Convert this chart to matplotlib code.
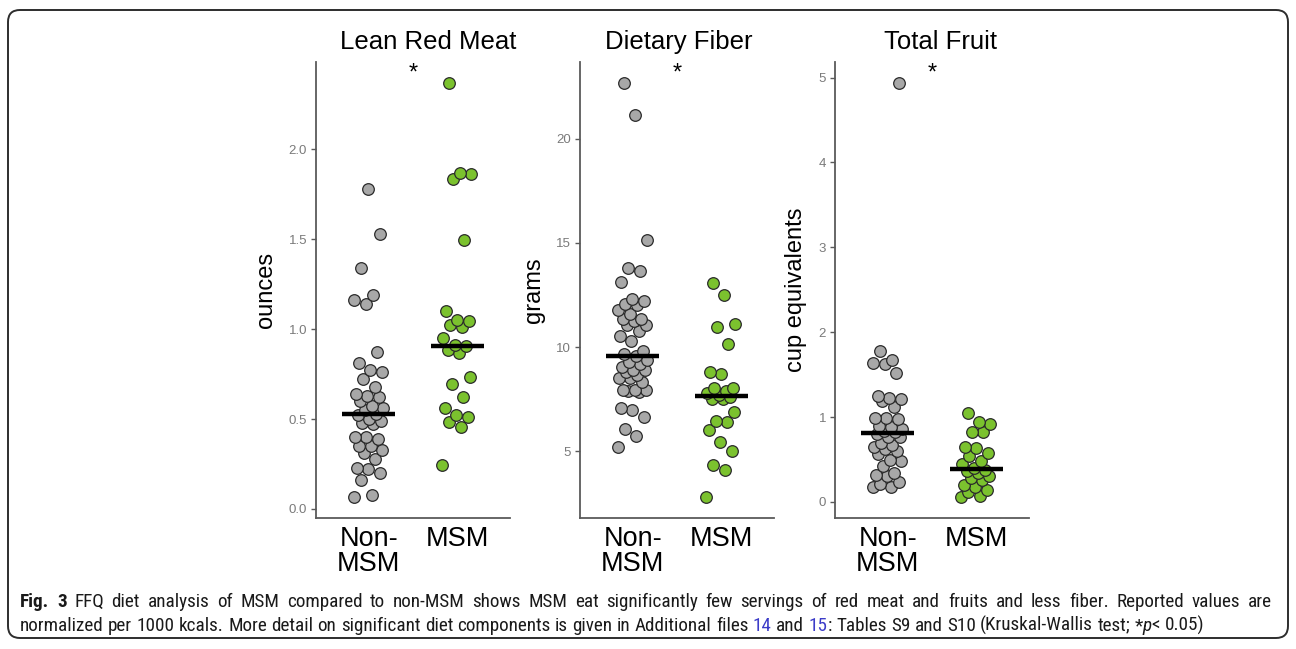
import numpy as np
import matplotlib
matplotlib.use("Agg")
import matplotlib.pyplot as plt
import matplotlib.transforms as mtransforms
from matplotlib import font_manager
from matplotlib.font_manager import FontProperties
from matplotlib.patches import FancyBboxPatch

# ---------------------------------------------------------------- data
groups = ["Non-\nMSM", "MSM"]
panel_titles = ["Lean Red Meat", "Dietary Fiber", "Total Fruit"]
y_labels = ["ounces", "grams", "cup equivalents"]
significance = ["*", "*", "*"]

# Lean red meat, ounces per 1000 kcal
meat_non_msm = [1.78, 1.53, 1.34, 1.19, 1.16, 1.14, 0.87, 0.81, 0.77, 0.76,
                0.72, 0.68, 0.64, 0.63, 0.62, 0.60, 0.57, 0.56, 0.55, 0.53,
                0.52, 0.50, 0.49, 0.48, 0.47, 0.40, 0.40, 0.39, 0.35, 0.35,
                0.33, 0.31, 0.28, 0.23, 0.22, 0.20, 0.16, 0.08, 0.065]
meat_msm = [2.37, 1.87, 1.86, 1.835, 1.495, 1.10, 1.053, 1.044, 1.021, 1.012,
            0.951, 0.91, 0.906, 0.882, 0.867, 0.733, 0.696, 0.622, 0.561,
            0.524, 0.513, 0.486, 0.455, 0.245]

# Dietary fiber, grams per 1000 kcal
fiber_non_msm = [22.70, 21.15, 15.16, 13.79, 13.67, 13.14, 12.30, 12.22, 12.05,
                 12.00, 11.76, 11.57, 11.37, 11.33, 11.25, 11.08, 11.08, 10.76,
                 10.52, 10.31, 9.79, 9.66, 9.55, 9.38, 9.30, 9.20, 9.06, 8.90,
                 8.90, 8.80, 8.66, 8.50, 8.50, 8.30, 7.93, 7.93, 7.92, 7.90,
                 7.85, 7.07, 6.96, 6.64, 6.07, 5.71, 5.18]
fiber_msm = [13.06, 12.51, 11.12, 10.96, 10.15, 8.79, 8.69, 8.04, 8.04, 7.88,
             7.77, 7.70, 7.52, 7.50, 6.88, 6.44, 6.41, 6.03, 5.42, 5.01, 4.32,
             4.08, 2.78, 7.60]

# Total fruit, cup equivalents per 1000 kcal
fruit_non_msm = [4.94, 1.78, 1.67, 1.64, 1.63, 1.52, 1.25, 1.23, 1.21, 1.19,
                 1.12, 0.99, 0.99, 0.98, 0.89, 0.88, 0.86, 0.84, 0.82, 0.80,
                 0.77, 0.77, 0.70, 0.67, 0.65, 0.62, 0.60, 0.56, 0.49, 0.48,
                 0.42, 0.34, 0.32, 0.30, 0.23, 0.21, 0.18, 0.18]
fruit_msm = [1.05, 0.94, 0.92, 0.82, 0.82, 0.65, 0.63, 0.58, 0.54, 0.48, 0.45,
             0.40, 0.38, 0.36, 0.34, 0.30, 0.28, 0.26, 0.20, 0.18, 0.14, 0.12,
             0.07, 0.055]

meat_ticks = [0.0, 0.5, 1.0, 1.5, 2.0]
meat_ticklabels = ["0.0", "0.5", "1.0", "1.5", "2.0"]
fiber_ticks = [5, 10, 15, 20]
fiber_ticklabels = ["5", "10", "15", "20"]
fruit_ticks = [0, 1, 2, 3, 4, 5]
fruit_ticklabels = ["0", "1", "2", "3", "4", "5"]

panels = [
    (meat_non_msm, meat_msm, meat_ticks, meat_ticklabels),
    (fiber_non_msm, fiber_msm, fiber_ticks, fiber_ticklabels),
    (fruit_non_msm, fruit_msm, fruit_ticks, fruit_ticklabels),
]

# ---------------------------------------------------------------- style
W, H, DPI = 1296, 649, 100
FONT = "Liberation Sans"
GRAY_FILL = "#a8a8a8"
GREEN_FILL = "#7bc22e"
EDGE = "#2a2a2a"
AXIS_COLOR = "#5a5a5a"
TICK_TEXT = "#7a7a7a"
group_colors = [GRAY_FILL, GREEN_FILL]

panel_left_px = [316, 580, 835]
panel_width_px = 194
panel_top_px, panel_bottom_px = 62, 518
title_center_frac = [0.577, 0.51, 0.546]

fig = plt.figure(figsize=(W / DPI, H / DPI), dpi=DPI)
fig.patch.set_facecolor("white")


def spread(n, half_width):
    """Deterministic horizontal spread using the golden-ratio sequence."""
    phi = (np.sqrt(5.0) - 1.0) / 2.0
    return ((np.arange(n) * phi) % 1.0 - 0.5) * 2.0 * half_width


for k, (non_msm, msm, ticks, ticklabels) in enumerate(panels):
    left = panel_left_px[k] / W
    bottom = 1 - panel_bottom_px / H
    height = (panel_bottom_px - panel_top_px) / H
    ax = fig.add_axes([left, bottom, panel_width_px / W, height])

    all_vals = np.concatenate([non_msm, msm])
    lo, hi = all_vals.min(), all_vals.max()
    pad = 0.05 * (hi - lo)
    ax.set_ylim(lo - pad, hi + pad)
    ax.set_xlim(0.4, 2.6)

    for g, vals in enumerate([non_msm, msm]):
        v = np.sort(np.asarray(vals, dtype=float))
        xs = (g + 1) + spread(len(v), 0.17)
        ax.scatter(xs, v, s=70, facecolor=group_colors[g], edgecolor=EDGE,
                   linewidth=0.9, zorder=3)
        med = np.median(v)
        ax.plot([g + 1 - 0.3, g + 1 + 0.3], [med, med], color="black",
                lw=3.2, solid_capstyle="butt", zorder=4)

    # significance marker between the groups
    trans = mtransforms.blended_transform_factory(ax.transData, ax.transAxes)
    ax.text(1.5, 0.975, significance[k], transform=trans, ha="center",
            va="center", fontsize=17, family=FONT, color="black")

    ax.set_xticks([1, 2])
    ax.set_xticklabels(groups, fontsize=19.5, family=FONT, color="black",
                       linespacing=0.92, va="top")
    ax.tick_params(axis="x", length=0, pad=6)
    ax.set_yticks(ticks)
    ax.set_yticklabels(ticklabels, fontsize=9.5, family=FONT, color=TICK_TEXT)
    ax.tick_params(axis="y", length=3.5, width=1.0, color=AXIS_COLOR, pad=3)

    ax.set_ylabel(y_labels[k], fontsize=17, family=FONT, color="black",
                  labelpad=8)

    for side in ["top", "right"]:
        ax.spines[side].set_visible(False)
    for side in ["left", "bottom"]:
        ax.spines[side].set_color(AXIS_COLOR)
        ax.spines[side].set_linewidth(1.3)
    ax.set_facecolor("white")

    cx = (panel_left_px[k] + title_center_frac[k] * panel_width_px) / W
    fig.text(cx, 1 - 49 / H, panel_titles[k], ha="center", va="baseline",
             fontsize=18.5, family=FONT, color="black")

# ---------------------------------------------------------------- caption box
box = FancyBboxPatch((8, H - 638), 1280, 628,
                     boxstyle="round,pad=0,rounding_size=12",
                     transform=mtransforms.IdentityTransform(),
                     facecolor="none", edgecolor="#2d2d2d", linewidth=1.4,
                     zorder=0)
fig.patches.append(box)

# caption font: prefer a narrow sans face when one is installed
cap_family, cap_stretch = "Liberation Sans", "normal"
entries = font_manager.fontManager.ttflist
names = {f.name for f in entries}
for cand in ["Liberation Sans Narrow", "Roboto Condensed", "Open Sans Condensed"]:
    if cand in names:
        cap_family = cand
        break
else:
    if any(f.name == "DejaVu Sans" and f.stretch == "condensed" for f in entries):
        cap_family, cap_stretch = "DejaVu Sans", "condensed"

TXT = "#1a1a1a"
LINK = "#3c3cc8"
line1 = [("Fig. 3", "bold", "normal", TXT),
         (" FFQ diet analysis of MSM compared to non-MSM shows MSM eat "
          "significantly few servings of red meat and fruits and less fiber. "
          "Reported values are", "normal", "normal", TXT)]
line2 = [("normalized per 1000 kcals. More detail on significant diet "
          "components is given in Additional files ", "normal", "normal", TXT),
         ("14", "normal", "normal", LINK),
         (" and ", "normal", "normal", TXT),
         ("15", "normal", "normal", LINK),
         (": Tables S9 and S10 (Kruskal-Wallis test; *", "normal", "normal", TXT),
         ("p", "normal", "italic", TXT),
         ("< 0.05)", "normal", "normal", TXT)]

renderer = fig.canvas.get_renderer()


def props(size, weight, style):
    return FontProperties(family=cap_family, stretch=cap_stretch, size=size,
                          weight=weight, style=style)


def run_width(text, fp):
    w1, _, _ = renderer.get_text_width_height_descent("|" + text + "|", fp, ismath=False)
    w0, _, _ = renderer.get_text_width_height_descent("||", fp, ismath=False)
    return w1 - w0


def natural_width(runs, size):
    return sum(run_width(t, props(size, wt, st)) for t, wt, st, _ in runs)


# the last (ragged) line sets the type size; the first line is justified
base = 12.0
cap_size = base * 1188.0 / natural_width(line2, base)


def split_words(runs):
    """Break runs into (word, style) pieces, recording where spaces fall."""
    pieces = []
    for text, wt, st, col in runs:
        parts = text.split(" ")
        for i, p in enumerate(parts):
            if i > 0:
                pieces.append((" ", wt, st, col))
            if p:
                pieces.append((p, wt, st, col))
    return pieces


def draw_line(runs, x_px, baseline_px, justify_to=None):
    pieces = split_words(runs)
    extra = 0.0
    if justify_to is not None:
        nat = natural_width(runs, cap_size)
        n_spaces = sum(1 for p in pieces if p[0] == " ")
        extra = (justify_to - nat) / max(n_spaces, 1)
    x = x_px
    for text, wt, st, col in pieces:
        fp = props(cap_size, wt, st)
        if text == " ":
            x += run_width(" ", fp) + extra
            continue
        fig.text(x / W, 1 - baseline_px / H, text, fontproperties=fp,
                 color=col, ha="left", va="baseline")
        x += run_width(text, fp)


draw_line(line1, 20, 607, justify_to=1252)
draw_line(line2, 20, 631)

fig.savefig("out.png", dpi=DPI, facecolor="white")
